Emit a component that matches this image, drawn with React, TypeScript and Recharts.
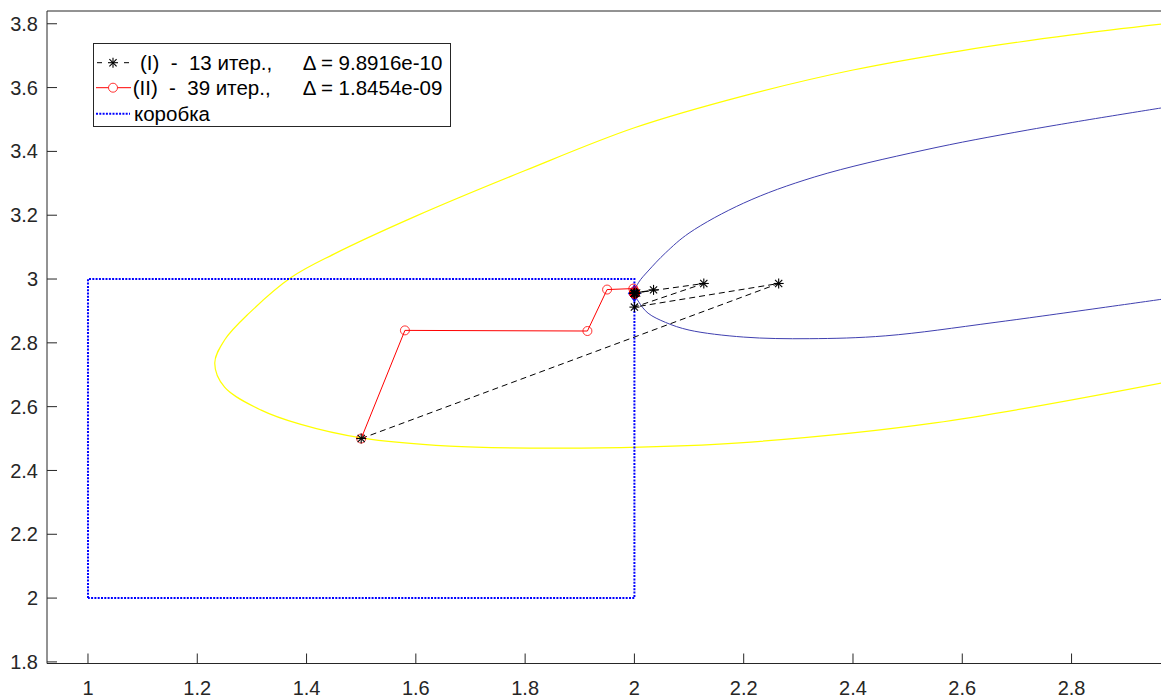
import { LineChart, Line, XAxis, YAxis, Legend } from "recharts";

const FONT = "'Liberation Sans', Arial, Helvetica, sans-serif";
const AX = "#262626";

const xTicks = [1, 1.2, 1.4, 1.6, 1.8, 2, 2.2, 2.4, 2.6, 2.8];
const yTicks = [1.8, 2, 2.2, 2.4, 2.6, 2.8, 3, 3.2, 3.4, 3.6, 3.8];

// yellow curve: upper branch right -> left, around the vertex, lower branch left -> right
const yellowCurve = [
  [2.971, 3.8], [2.8, 3.765], [2.6, 3.716], [2.4, 3.655], [2.2, 3.574], [2.0, 3.474],
  [1.8, 3.34], [1.6, 3.197], [1.45, 3.078], [1.373, 3.006], [1.295, 2.893], [1.25, 2.809],
  [1.232, 2.737], [1.25, 2.661], [1.317, 2.589], [1.388, 2.545], [1.5, 2.502], [1.662, 2.476],
  [1.822, 2.47], [2.01, 2.473], [2.213, 2.489], [2.55, 2.549], [2.971, 2.676],
];

// blue curve
const blueCurve = [
  [2.971, 3.538], [2.72, 3.467], [2.53, 3.404], [2.33, 3.32], [2.2, 3.238], [2.1, 3.144],
  [2.057, 3.082], [2.025, 3.025], [2.008, 2.99], [2.0, 2.958], [2.008, 2.928], [2.025, 2.893],
  [2.057, 2.864], [2.1, 2.84], [2.2, 2.818], [2.32, 2.813], [2.46, 2.822], [2.66, 2.864],
  [2.971, 2.938],
];

// коробка
const boxPts = [[1, 2], [1, 3], [2, 3], [2, 2], [1, 2]];

// (I) 13 iterations
const iterI = [
  [1.5, 2.5], [2.264, 2.986], [2.0, 2.912], [2.127, 2.986], [2.0, 2.956], [2.035, 2.966],
  [2.0, 2.955], [2.004, 2.956], [2.0, 2.955], [2.001, 2.955], [2.0, 2.955], [2.0, 2.955],
  [2.0, 2.955], [2.0, 2.955],
];

// (II) 39 iterations
const iterII = [
  [1.5, 2.5], [1.58, 2.839], [1.914, 2.837], [1.95, 2.967], [1.998, 2.97], [2.0, 2.962],
  [2.001, 2.958], [2.0, 2.956], [2.001, 2.955], [2.0, 2.954], [2.0, 2.956], [2.001, 2.955],
  [2.0, 2.955], [2.0, 2.956], [2.0, 2.955], [2.001, 2.955], [2.0, 2.955], [2.0, 2.955],
  [2.0, 2.955], [2.0, 2.955], [2.0, 2.955], [2.0, 2.955], [2.0, 2.955], [2.0, 2.955],
  [2.0, 2.955], [2.0, 2.955], [2.0, 2.955], [2.0, 2.955], [2.0, 2.955], [2.0, 2.955],
  [2.0, 2.955], [2.0, 2.955], [2.0, 2.955], [2.0, 2.955], [2.0, 2.955], [2.0, 2.955],
  [2.0, 2.955], [2.0, 2.955], [2.0, 2.955], [2.0, 2.955],
];

const solution = [[2.0, 2.955]];

const legendRows = ["(I)  -  13 итер.,", "(II)  -  39 итер.,", "коробка"];
const legendDelta = ["Δ = 9.8916e-10", "Δ = 1.8454e-09"];

const toPts = (a: number[][]) => a.map(([x, y]) => ({ x, y }));

// centripetal Catmull-Rom through the read points (smooth curve, passes every point)
const catmullRom = (ctx: any) => {
  let pts: number[][] = [];
  return {
    areaStart() {},
    areaEnd() {},
    lineStart() { pts = []; },
    point(x: number, y: number) { pts.push([+x, +y]); },
    lineEnd() {
      if (!pts.length) return;
      ctx.moveTo(pts[0][0], pts[0][1]);
      const dist = (a: number[], b: number[]) => Math.sqrt(Math.hypot(a[0] - b[0], a[1] - b[1]));
      for (let i = 0; i < pts.length - 1; i++) {
        const p0 = pts[i - 1] || pts[i];
        const p1 = pts[i];
        const p2 = pts[i + 1];
        const p3 = pts[i + 2] || pts[i + 1];
        const l01 = dist(p0, p1), l12 = dist(p1, p2), l23 = dist(p2, p3);
        let c1 = p1, c2 = p2;
        if (l01 > 1e-6) {
          const a = 2 * l01 * l01 + 3 * l01 * l12 + l12 * l12;
          const n = 3 * l01 * (l01 + l12);
          c1 = [0, 1].map((k) => (p1[k] * a - p0[k] * l12 * l12 + p2[k] * l01 * l01) / n);
        }
        if (l23 > 1e-6) {
          const b = 2 * l23 * l23 + 3 * l23 * l12 + l12 * l12;
          const m = 3 * l23 * (l23 + l12);
          c2 = [0, 1].map((k) => (p2[k] * b + p1[k] * l23 * l23 - p3[k] * l12 * l12) / m);
        }
        ctx.bezierCurveTo(c1[0], c1[1], c2[0], c2[1], p2[0], p2[1]);
      }
    },
  };
};

function Star({ cx, cy, r = 5 }: { cx: number; cy: number; r?: number }) {
  const d = r * 0.72;
  return (
    <g stroke="#000" strokeWidth={1.1}>
      <line x1={cx - r} y1={cy} x2={cx + r} y2={cy} />
      <line x1={cx} y1={cy - r} x2={cx} y2={cy + r} />
      <line x1={cx - d} y1={cy - d} x2={cx + d} y2={cy + d} />
      <line x1={cx - d} y1={cy + d} x2={cx + d} y2={cy - d} />
    </g>
  );
}

const renderStar = (p: any) => <g key={"s" + p.index}><Star cx={p.cx} cy={p.cy} /></g>;
const renderCircle = (p: any) => (
  <circle key={"c" + p.index} cx={p.cx} cy={p.cy} r={4.5} fill="none" stroke="#FF0000" strokeWidth={0.8} />
);
const renderDiamond = (p: any) => (
  <path
    key={"d" + p.index}
    d={`M${p.cx},${p.cy - 8} L${p.cx + 6},${p.cy} L${p.cx},${p.cy + 8} L${p.cx - 6},${p.cy} Z`}
    fill="#1010c0"
    stroke="#0000FF"
  />
);

function LegendBox() {
  const rowsY = [18.7, 43.7, 69.7];
  return (
    <svg width={358} height={84} style={{ display: "block", background: "#fff", border: `1px solid ${AX}`, boxSizing: "border-box" }}>
      <g fontFamily={FONT} fontSize={20.5} fill="#000">
        <line x1={3} y1={rowsY[0]} x2={8} y2={rowsY[0]} stroke="#000" />
        <line x1={30} y1={rowsY[0]} x2={35} y2={rowsY[0]} stroke="#000" />
        <Star cx={19} cy={rowsY[0]} />
        <line x1={2} y1={rowsY[1]} x2={37} y2={rowsY[1]} stroke="#FF0000" />
        <circle cx={19} cy={rowsY[1]} r={4.5} fill="#fff" stroke="#FF0000" strokeWidth={0.8} />
        <line x1={2} y1={rowsY[2]} x2={36} y2={rowsY[2]} stroke="#0000FF" strokeWidth={2} strokeDasharray="2 1.3" />
        <text x={46} y={rowsY[0]} dominantBaseline="central" style={{ whiteSpace: "pre" }}>{legendRows[0]}</text>
        <text x={38.7} y={rowsY[1]} dominantBaseline="central" style={{ whiteSpace: "pre" }}>{legendRows[1]}</text>
        <text x={40} y={rowsY[2]} dominantBaseline="central">{legendRows[2]}</text>
        <text x={208.7} y={rowsY[0]} dominantBaseline="central">{legendDelta[0]}</text>
        <text x={208.7} y={rowsY[1]} dominantBaseline="central">{legendDelta[1]}</text>
      </g>
    </svg>
  );
}

const X_DOM: [number, number] = [0.925, 2.971];
const Y_DOM: [number, number] = [1.795, 3.84];

export default function App() {
  const tickStyle = { fill: AX, fontSize: 20, fontFamily: FONT };
  return (
    <div style={{ position: "fixed", left: 0, top: 0, width: 1161, height: 700, overflow: "hidden", background: "#fff" }}>
      <div style={{ width: 1200, height: 700 }}>
        <LineChart width={1200} height={700} margin={{ top: 10, right: 34, bottom: 35.5, left: 46 }}>
          <XAxis xAxisId="b" type="number" dataKey="x" domain={X_DOM} ticks={xTicks} interval={0} allowDataOverflow
            height={1} tickSize={-10} tickMargin={27} axisLine={{ stroke: AX }} tickLine={{ stroke: AX }} tick={tickStyle} />
          <XAxis xAxisId="t" orientation="top" type="number" dataKey="x" domain={X_DOM} ticks={xTicks} interval={0} allowDataOverflow
            height={1} tickSize={-10} axisLine={{ stroke: AX }} tickLine={{ stroke: AX }} tick={false} />
          <YAxis yAxisId="l" type="number" dataKey="y" domain={Y_DOM} ticks={yTicks} interval={0} allowDataOverflow
            width={1} tickSize={-10} tickMargin={19} axisLine={{ stroke: AX }} tickLine={{ stroke: AX }} tick={tickStyle} />
          <YAxis yAxisId="r" orientation="right" type="number" dataKey="y" domain={Y_DOM} ticks={yTicks} interval={0} allowDataOverflow
            width={1} tickSize={-10} axisLine={{ stroke: AX }} tickLine={{ stroke: AX }} tick={false} />
          <Legend layout="horizontal" verticalAlign="middle" align="center" wrapperStyle={{ left: 93, top: 43, width: 358, height: 84 }}
            content={() => <LegendBox />} />

          <Line xAxisId="b" yAxisId="l" data={toPts(yellowCurve)} dataKey="y" type={catmullRom as any} stroke="#FFFF00" strokeWidth={1.2}
            dot={false} activeDot={false} isAnimationActive={false} legendType="none" />
          <Line xAxisId="b" yAxisId="l" data={toPts(blueCurve)} dataKey="y" type={catmullRom as any} stroke="#4040B0" strokeWidth={1}
            dot={false} activeDot={false} isAnimationActive={false} legendType="none" />
          <Line xAxisId="b" yAxisId="l" data={toPts(boxPts)} dataKey="y" type="linear" stroke="#0000FF" strokeWidth={2}
            strokeDasharray="2 1.3" dot={false} activeDot={false} isAnimationActive={false} />
          <Line xAxisId="b" yAxisId="l" data={toPts(solution)} dataKey="y" type="linear" stroke="none"
            dot={renderDiamond} activeDot={false} isAnimationActive={false} legendType="none" />
          <Line xAxisId="b" yAxisId="l" data={toPts(iterII)} dataKey="y" type="linear" stroke="#FF0000" strokeWidth={1}
            dot={renderCircle} activeDot={false} isAnimationActive={false} />
          <Line xAxisId="b" yAxisId="l" data={toPts(iterI)} dataKey="y" type="linear" stroke="#000" strokeWidth={1}
            strokeDasharray="6 4" dot={renderStar} activeDot={false} isAnimationActive={false} />
        </LineChart>
      </div>
    </div>
  );
}
